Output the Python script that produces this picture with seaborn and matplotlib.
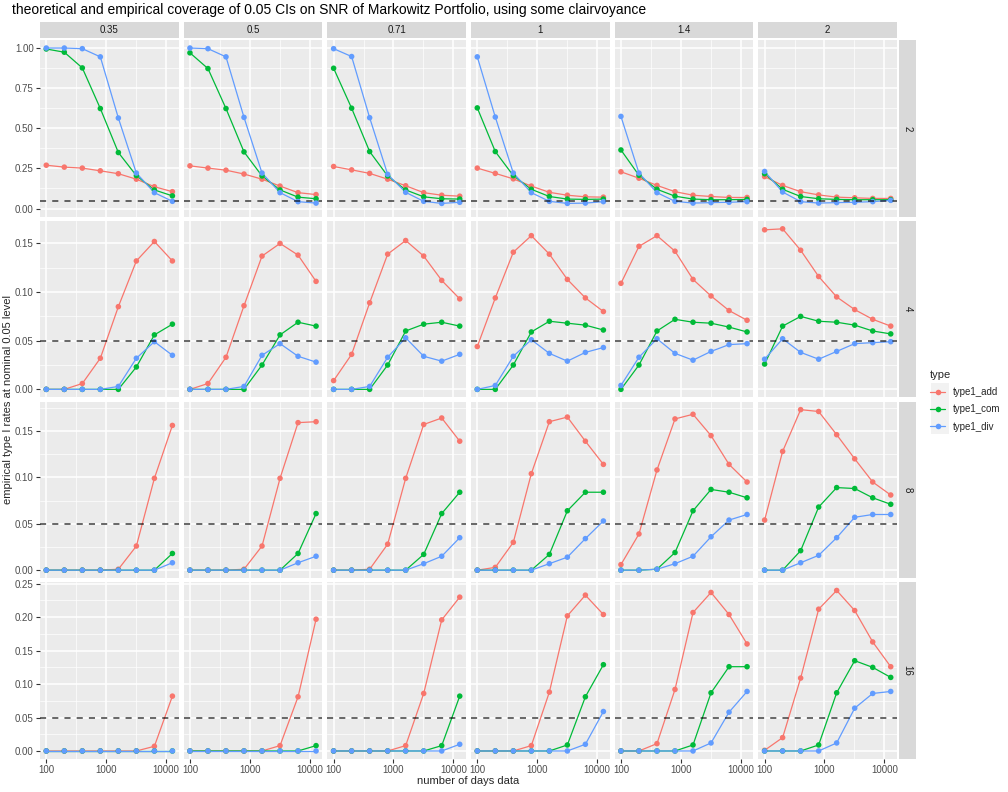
import numpy as np
import pandas as pd
import matplotlib
matplotlib.use("Agg")
import matplotlib.pyplot as plt
from matplotlib.patches import Rectangle
from matplotlib.lines import Line2D
from matplotlib.ticker import FixedLocator, FuncFormatter, MultipleLocator
import seaborn as sns

# facets and x values
snr_cols = ['0.35', '0.5', '0.71', '1', '1.4', '2']
rho_rows = ['2', '4', '8', '16']
days = [100, 200, 400, 800, 1600, 3200, 6400, 12800]
types = ['type1_add', 'type1_com', 'type1_div']

# rho = 2, one list per snr column
add_2 = [[0.270, 0.258, 0.252, 0.235, 0.217, 0.183, 0.136, 0.105],
         [0.266, 0.252, 0.239, 0.215, 0.183, 0.140, 0.099, 0.087],
         [0.262, 0.241, 0.219, 0.183, 0.142, 0.099, 0.083, 0.077],
         [0.252, 0.219, 0.185, 0.140, 0.101, 0.083, 0.073, 0.071],
         [0.229, 0.189, 0.144, 0.105, 0.083, 0.075, 0.069, 0.069],
         [0.199, 0.144, 0.105, 0.085, 0.071, 0.067, 0.063, 0.063]]
com_2 = [[0.994, 0.974, 0.876, 0.623, 0.349, 0.205, 0.116, 0.079],
         [0.970, 0.872, 0.623, 0.353, 0.203, 0.116, 0.071, 0.061],
         [0.874, 0.625, 0.355, 0.203, 0.116, 0.073, 0.061, 0.059],
         [0.627, 0.355, 0.205, 0.120, 0.075, 0.059, 0.057, 0.059],
         [0.365, 0.207, 0.120, 0.077, 0.059, 0.055, 0.055, 0.057],
         [0.217, 0.120, 0.075, 0.061, 0.057, 0.055, 0.055, 0.055]]
div_2 = [[1.000, 1.000, 0.996, 0.945, 0.564, 0.221, 0.099, 0.045],
         [1.000, 0.996, 0.945, 0.568, 0.221, 0.099, 0.043, 0.034],
         [0.996, 0.947, 0.566, 0.213, 0.101, 0.045, 0.032, 0.039],
         [0.945, 0.570, 0.221, 0.099, 0.045, 0.032, 0.034, 0.043],
         [0.574, 0.221, 0.099, 0.045, 0.034, 0.037, 0.039, 0.043],
         [0.231, 0.103, 0.043, 0.034, 0.037, 0.039, 0.043, 0.051]]

# rho = 4
add_4 = [[0, 0, 0.006, 0.032, 0.085, 0.132, 0.152, 0.132],
         [0, 0.006, 0.033, 0.086, 0.137, 0.150, 0.138, 0.111],
         [0.009, 0.036, 0.089, 0.139, 0.153, 0.137, 0.112, 0.093],
         [0.044, 0.094, 0.141, 0.158, 0.139, 0.113, 0.094, 0.080],
         [0.109, 0.147, 0.158, 0.142, 0.113, 0.096, 0.081, 0.071],
         [0.164, 0.165, 0.143, 0.116, 0.095, 0.082, 0.072, 0.065]]
com_4 = [[0, 0, 0, 0, 0, 0.023, 0.056, 0.067],
         [0, 0, 0, 0, 0.025, 0.056, 0.069, 0.065],
         [0, 0, 0, 0.025, 0.060, 0.067, 0.069, 0.065],
         [0, 0, 0.025, 0.059, 0.070, 0.068, 0.066, 0.061],
         [0, 0.025, 0.060, 0.072, 0.069, 0.068, 0.064, 0.059],
         [0.026, 0.065, 0.075, 0.070, 0.069, 0.066, 0.060, 0.057]]
div_4 = [[0, 0, 0, 0, 0.003, 0.032, 0.049, 0.035],
         [0, 0, 0, 0.003, 0.035, 0.047, 0.034, 0.028],
         [0, 0, 0.003, 0.033, 0.053, 0.034, 0.029, 0.036],
         [0, 0.004, 0.034, 0.051, 0.037, 0.029, 0.038, 0.043],
         [0.004, 0.033, 0.052, 0.037, 0.030, 0.039, 0.046, 0.047],
         [0.031, 0.052, 0.038, 0.031, 0.039, 0.047, 0.048, 0.049]]

# rho = 8
add_8 = [[0, 0, 0, 0, 0.001, 0.026, 0.099, 0.156],
         [0, 0, 0, 0.001, 0.026, 0.099, 0.159, 0.160],
         [0, 0, 0.001, 0.028, 0.099, 0.157, 0.164, 0.139],
         [0, 0.003, 0.030, 0.104, 0.160, 0.165, 0.139, 0.114],
         [0.006, 0.039, 0.108, 0.163, 0.168, 0.145, 0.114, 0.095],
         [0.054, 0.128, 0.173, 0.171, 0.146, 0.120, 0.095, 0.081]]
com_8 = [[0, 0, 0, 0, 0, 0, 0, 0.018],
         [0, 0, 0, 0, 0, 0, 0.018, 0.061],
         [0, 0, 0, 0, 0, 0.017, 0.061, 0.084],
         [0, 0, 0, 0, 0.017, 0.064, 0.084, 0.084],
         [0, 0, 0.001, 0.019, 0.064, 0.087, 0.084, 0.078],
         [0, 0, 0.021, 0.068, 0.089, 0.088, 0.078, 0.071]]
div_8 = [[0, 0, 0, 0, 0, 0, 0, 0.008],
         [0, 0, 0, 0, 0, 0, 0.008, 0.015],
         [0, 0, 0, 0, 0, 0.007, 0.015, 0.035],
         [0, 0, 0, 0, 0.007, 0.014, 0.034, 0.053],
         [0, 0, 0.001, 0.007, 0.015, 0.036, 0.054, 0.060],
         [0, 0, 0.008, 0.016, 0.035, 0.057, 0.060, 0.060]]

# rho = 16
add_16 = [[0, 0, 0, 0, 0, 0, 0.007, 0.082],
          [0, 0, 0, 0, 0, 0.008, 0.081, 0.197],
          [0, 0, 0, 0, 0.008, 0.086, 0.196, 0.230],
          [0, 0, 0, 0.008, 0.088, 0.202, 0.233, 0.204],
          [0, 0, 0.011, 0.092, 0.207, 0.237, 0.204, 0.160],
          [0.001, 0.020, 0.109, 0.212, 0.240, 0.210, 0.163, 0.126]]
com_16 = [[0, 0, 0, 0, 0, 0, 0, 0],
          [0, 0, 0, 0, 0, 0, 0, 0.008],
          [0, 0, 0, 0, 0, 0, 0.008, 0.082],
          [0, 0, 0, 0, 0, 0.009, 0.081, 0.129],
          [0, 0, 0, 0, 0.009, 0.087, 0.126, 0.126],
          [0, 0, 0, 0.009, 0.087, 0.135, 0.125, 0.110]]
div_16 = [[0, 0, 0, 0, 0, 0, 0, 0],
          [0, 0, 0, 0, 0, 0, 0, 0],
          [0, 0, 0, 0, 0, 0, 0, 0.010],
          [0, 0, 0, 0, 0, 0, 0.010, 0.059],
          [0, 0, 0, 0, 0, 0.012, 0.058, 0.089],
          [0, 0, 0, 0, 0.012, 0.064, 0.086, 0.089]]

by_row = {'2': (add_2, com_2, div_2), '4': (add_4, com_4, div_4),
          '8': (add_8, com_8, div_8), '16': (add_16, com_16, div_16)}

rows = []
for rho in rho_rows:
    for t, block in zip(types, by_row[rho]):
        for j, snr in enumerate(snr_cols):
            for d, v in zip(days, block[j]):
                rows.append((rho, snr, t, d, v))
df = pd.DataFrame(rows, columns=['rho', 'snr', 'type', 'days', 'rate'])

pal = {'type1_add': '#F8766D', 'type1_com': '#00BA38', 'type1_div': '#619CFF'}
ytick_step = {'2': 0.25, '4': 0.05, '8': 0.05, '16': 0.05}

sns.set_style('white')
plt.rcParams['font.family'] = ['Liberation Sans', 'DejaVu Sans']

fig, axes = plt.subplots(4, 6, figsize=(10.08, 7.92), dpi=100, sharex=True, sharey='row')
fig.subplots_adjust(left=40/1008, right=897/1008, top=1-40/792, bottom=1-759/792,
                    wspace=0.036, hspace=0.024)

for i, rho in enumerate(rho_rows):
    rdf = df[df['rho'] == rho]
    lo = min(0, rdf['rate'].min())
    hi = rdf['rate'].max()
    pad = 0.05 * (hi - lo)
    for j, snr in enumerate(snr_cols):
        ax = axes[i, j]
        sub = rdf[rdf['snr'] == snr]
        ax.set_facecolor('#EBEBEB')
        sns.lineplot(data=sub, x='days', y='rate', hue='type', hue_order=types,
                     palette=pal, linewidth=0.9, errorbar=None, legend=False, ax=ax)
        sns.scatterplot(data=sub, x='days', y='rate', hue='type',
                        hue_order=['type1_add', 'type1_div', 'type1_com'],
                        palette=pal, s=16, linewidth=0, legend=False, ax=ax, zorder=3)
        ax.axhline(0.05, color='black', alpha=0.75, linestyle=(0, (4, 4)), linewidth=1.1, zorder=4)
        ax.set_xscale('log')
        ax.set_xlim(10**1.895, 10**4.212)
        ax.xaxis.set_major_locator(FixedLocator([100, 1000, 10000]))
        ax.xaxis.set_minor_locator(FixedLocator([10**2.5, 10**3.5]))
        ax.xaxis.set_major_formatter(FuncFormatter(lambda v, p: '%d' % v))
        ax.set_ylim(lo - pad, hi + pad)
        st = ytick_step[rho]
        ax.yaxis.set_major_locator(MultipleLocator(st))
        ax.yaxis.set_minor_locator(MultipleLocator(st / 2))
        ax.yaxis.set_major_formatter(FuncFormatter(lambda v, p: '%.2f' % v))
        ax.grid(which='major', color='white', linewidth=1.1)
        ax.grid(which='minor', color='white', linewidth=0.5)
        ax.set_axisbelow(True)
        for s in ax.spines.values():
            s.set_visible(False)
        ax.tick_params(which='major', length=3, color='#333333', labelcolor='#4D4D4D',
                       labelsize=7, pad=1.5, left=(j == 0), bottom=(i == 3))
        ax.tick_params(which='minor', length=0)
        ax.set_xlabel('')
        ax.set_ylabel('')
        if i == 0:
            ax.add_patch(Rectangle((0, 1.011), 1, 0.092, transform=ax.transAxes,
                                   clip_on=False, facecolor='#D9D9D9', edgecolor='none'))
            ax.text(0.5, 1.057, snr, transform=ax.transAxes, ha='center', va='center',
                    fontsize=7, color='#1A1A1A')
        if j == 5:
            ax.add_patch(Rectangle((1.014, 0), 0.122, 1, transform=ax.transAxes,
                                   clip_on=False, facecolor='#D9D9D9', edgecolor='none'))
            ax.text(1.075, 0.5, rho, transform=ax.transAxes, ha='center', va='center',
                    fontsize=7, color='#1A1A1A', rotation=-90)

fig.text(12/1008, 1-10/792, 'theoretical and empirical coverage of 0.05 CIs on SNR of Markowitz Portfolio, using some clairvoyance',
         ha='left', va='center', fontsize=10, color='black')
fig.text((40+897)/2/1008, 1-781/792, 'number of days data', ha='center', va='center', fontsize=8)
fig.text(8/1008, 1-400/792, 'empirical type I rates at nominal 0.05 level', ha='center', va='center',
         rotation=90, fontsize=8)

handles = [Line2D([], [], color=pal[t], marker='o', markersize=4, markeredgewidth=0, linewidth=0.9)
           for t in types]
fig.patches.append(Rectangle((931/1008, 1-434/792), 18/1008, 51/792, transform=fig.transFigure,
                             facecolor='#F2F2F2', edgecolor='none', zorder=0))
leg = fig.legend(handles, types, title='type', loc='upper left',
                 bbox_to_anchor=(926/1008, 1-366/792), frameon=False, fontsize=7,
                 title_fontsize=8, handlelength=1.6, handletextpad=0.8, labelspacing=0.75,
                 borderaxespad=0)
leg._legend_box.align = 'left'

fig.savefig('out.png', dpi=100)
